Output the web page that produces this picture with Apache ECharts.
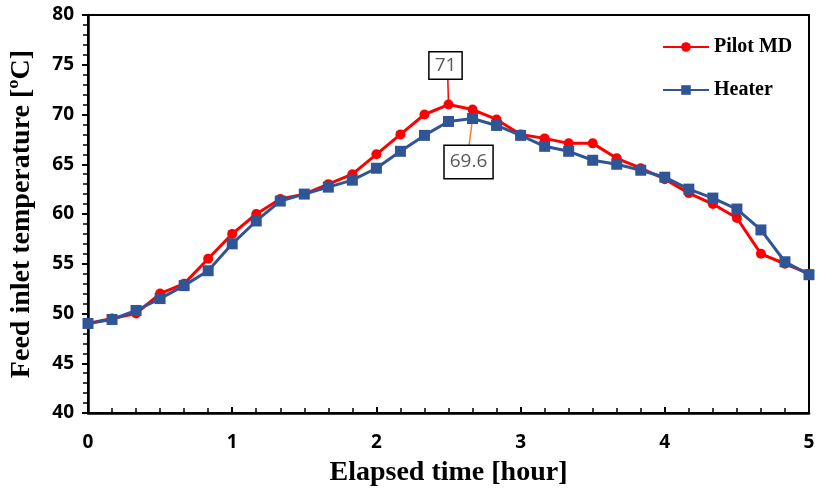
<!DOCTYPE html>
<html><head><meta charset="utf-8">
<script src="https://cdn.jsdelivr.net/npm/echarts@6/dist/echarts.min.js"></script>
<style>html,body{margin:0;padding:0;background:#fff}#c{width:818px;height:494px}</style>
</head><body><div id="c"></div>
<script>
var times = [0, 0.1667, 0.3333, 0.5, 0.6667, 0.8333, 1, 1.1667, 1.3333, 1.5, 1.6667, 1.8333, 2, 2.1667, 2.3333, 2.5, 2.6667, 2.8333, 3, 3.1667, 3.3333, 3.5, 3.6667, 3.8333, 4, 4.1667, 4.3333, 4.5, 4.6667, 4.8333, 5];
var pilotMD = [49, 49.5, 50, 52, 53, 55.5, 58, 60, 61.5, 62, 63, 64, 66, 68, 70, 71, 70.5, 69.5, 68, 67.6, 67.1, 67.1, 65.6, 64.6, 63.5, 62.1, 61, 59.6, 56, 55, 54];
var heater = [49, 49.4, 50.3, 51.5, 52.8, 54.3, 57, 59.3, 61.3, 62, 62.7, 63.4, 64.6, 66.3, 67.9, 69.3, 69.6, 68.9, 67.9, 66.8, 66.3, 65.4, 65, 64.4, 63.7, 62.5, 61.6, 60.5, 58.4, 55.2, 53.9];
var xTicks = [0, 1, 2, 3, 4, 5];
var yTicks = [40, 45, 50, 55, 60, 65, 70, 75, 80];
var pilotPeakIndex = 15, heaterPeakIndex = 16;

var boxLabel = {
  show: true, color: '#595959', fontSize: 19, fontFamily: 'Open Sans',
  backgroundColor: '#fff', borderColor: '#000', borderWidth: 1.5
};
function pairs(v, annIdx, lab) {
  return v.map(function (y, i) {
    var d = { value: [times[i], y] };
    if (i === annIdx) d.label = lab;
    return d;
  });
}
var chart = echarts.init(document.getElementById('c'));
chart.setOption({
  animation: false,
  grid: { left: 86, right: 9, top: 15, bottom: 81, show: true, borderColor: '#000', borderWidth: 2 },
  legend: {
    orient: 'vertical', left: 657, top: 32, itemWidth: 46, itemHeight: 12, itemGap: 23,
    textStyle: { fontFamily: 'Liberation Serif', fontWeight: 'bold', fontSize: 20, color: '#000' },
    data: ['Pilot MD', 'Heater']
  },
  xAxis: {
    type: 'value', min: 0, max: 5, interval: 1,
    name: 'Elapsed time [hour]', nameLocation: 'middle', nameGap: 46,
    nameTextStyle: { fontFamily: 'Liberation Serif', fontWeight: 'bold', fontSize: 28, color: '#000' },
    axisLine: { lineStyle: { color: '#000', width: 2.5 } },
    axisTick: { show: true, inside: true, length: 6, lineStyle: { color: '#000', width: 2 } },
    minorTick: { show: true, splitNumber: 6, length: 5, lineStyle: { color: '#000', width: 1.5 } },
    splitLine: { show: false },
    axisLabel: { margin: 20, color: '#000', fontFamily: 'Open Sans', fontWeight: 'bold', fontSize: 19,
      formatter: function (v) { return xTicks.indexOf(v) >= 0 ? String(v) : ''; } }
  },
  yAxis: {
    type: 'value', min: 40, max: 80, interval: 5,
    name: 'Feed inlet temperature [\u00baC]', nameLocation: 'middle', nameGap: 52,
    nameTextStyle: { fontFamily: 'Liberation Serif', fontWeight: 'bold', fontSize: 28, color: '#000' },
    axisLine: { show: true, lineStyle: { color: '#000', width: 2.5 } },
    axisTick: { show: true, inside: false, length: 6, lineStyle: { color: '#000', width: 2 } },
    minorTick: { show: true, splitNumber: 5, length: 5, lineStyle: { color: '#000', width: 1.5 } },
    splitLine: { show: false },
    axisLabel: { margin: 14, color: '#000', fontFamily: 'Open Sans', fontWeight: 'bold', fontSize: 19,
      formatter: function (v) { return yTicks.indexOf(v) >= 0 ? String(v) : ''; } }
  },
  series: [
    {
      name: 'Pilot MD', type: 'line', z: 2,
      symbol: 'circle', symbolSize: 10,
      itemStyle: { color: '#FF0000' },
      lineStyle: { color: '#FF0000', width: 3 },
      data: pairs(pilotMD, pilotPeakIndex, Object.assign({}, boxLabel, {
        position: 'top', distance: 21, offset: [-3, 0], padding: [3, 5, 3, 5], lineHeight: 20,
        formatter: function (p) { return String(p.value[1]); } })),
      markLine: {
        silent: true, symbol: 'none', label: { show: false }, z: 1,
        lineStyle: { color: '#FF0000', width: 1.5, type: 'solid' },
        data: [[{ coord: [times[pilotPeakIndex], pilotMD[pilotPeakIndex]] },
                { coord: [times[pilotPeakIndex] - 0.005, pilotMD[pilotPeakIndex] + 2.7] }]]
      }
    },
    {
      name: 'Heater', type: 'line', z: 3,
      symbol: 'rect', symbolSize: 11,
      itemStyle: { color: '#2F5597' },
      lineStyle: { color: '#2F5597', width: 3 },
      data: pairs(heater, heaterPeakIndex, Object.assign({}, boxLabel, {
        position: 'bottom', distance: 22, offset: [-4, 0], padding: [5, 5, 5, 5], lineHeight: 22,
        formatter: function (p) { return String(p.value[1]); } })),
      markLine: {
        silent: true, symbol: 'none', label: { show: false }, z: 1,
        lineStyle: { color: '#ED7D31', width: 1.5, type: 'solid' },
        data: [[{ coord: [times[heaterPeakIndex], heater[heaterPeakIndex]] },
                { coord: [times[heaterPeakIndex] - 0.025, heater[heaterPeakIndex] - 2.8] }]]
      }
    }
  ]
});
</script></body></html>
